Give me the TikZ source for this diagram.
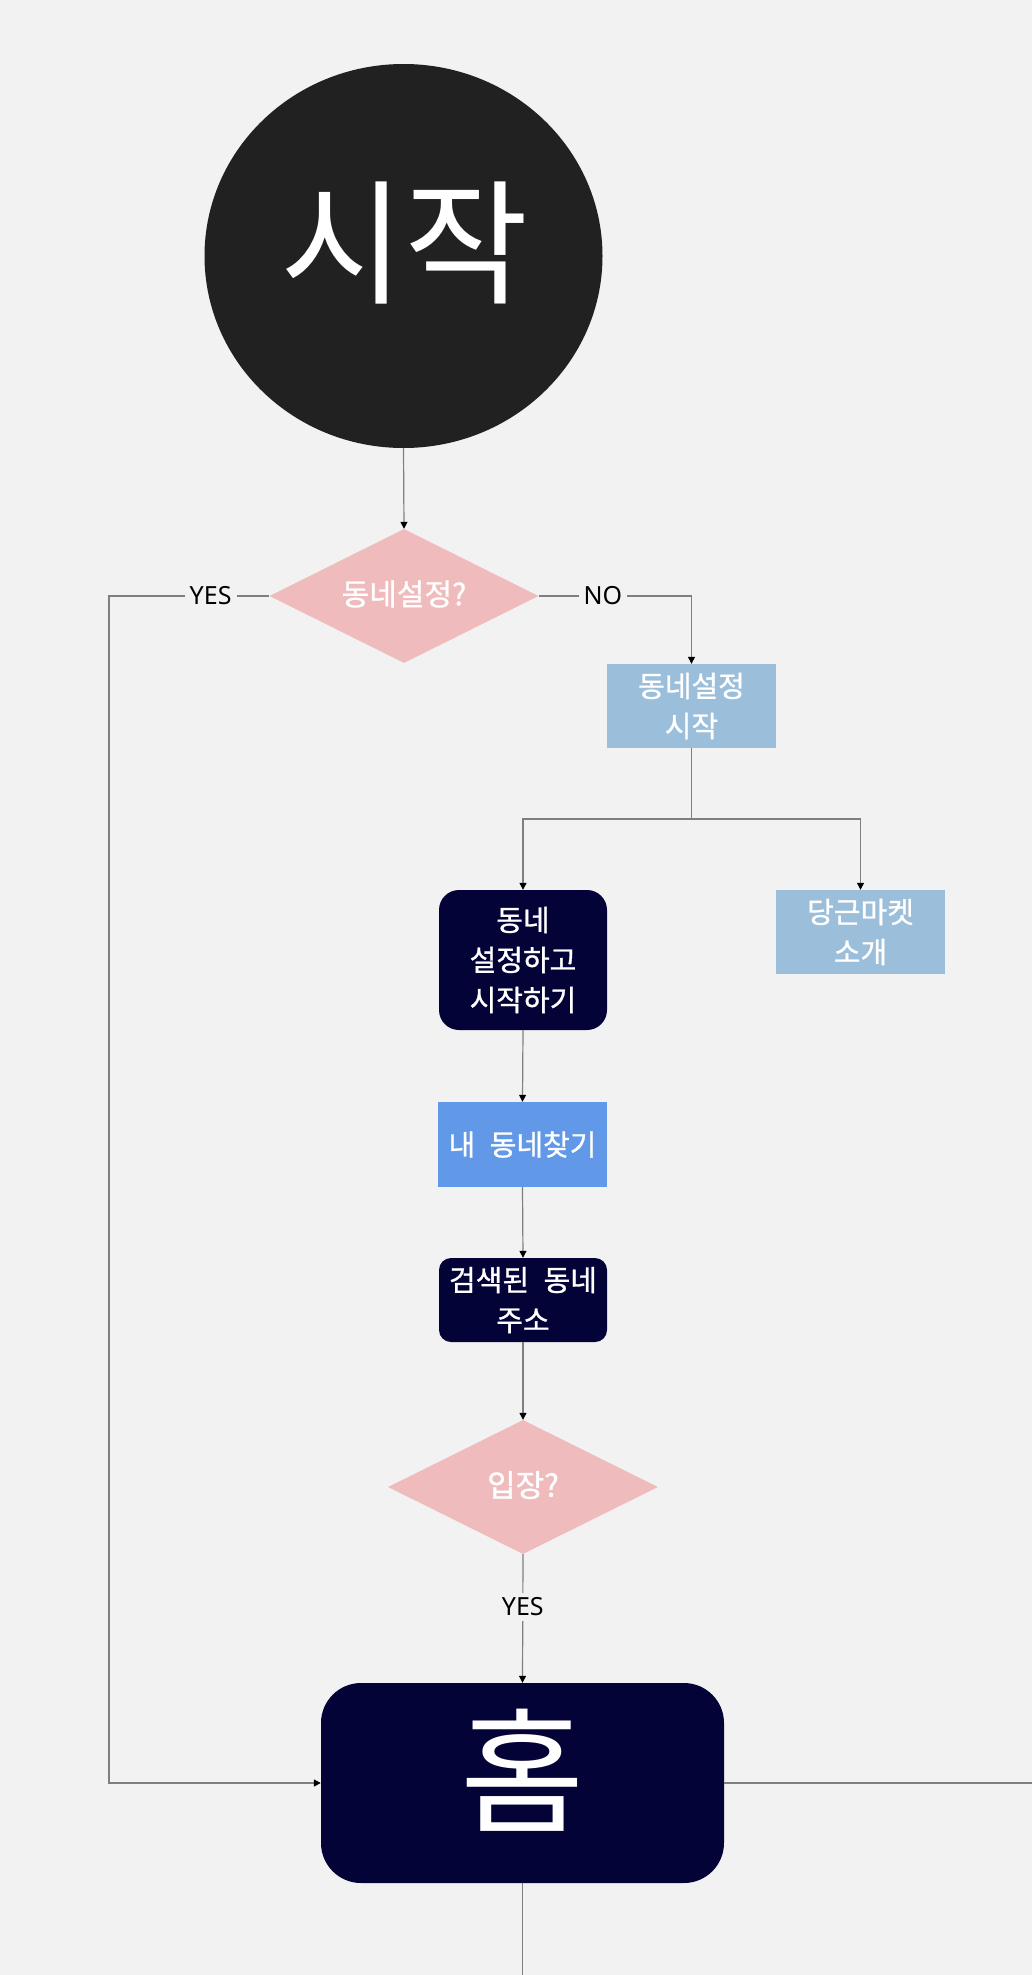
\documentclass[tikz,border=0pt]{standalone}
\usepackage{fontspec}
\setmainfont{Noto Sans CJK KR}
\newfontfamily\latinfont{Noto Sans}
\newfontfamily\krbold[FakeBold=1]{Noto Sans CJK KR}
\usetikzlibrary{shapes.geometric,arrows.meta}
\definecolor{bgc}{HTML}{F2F2F2}
\definecolor{darkc}{HTML}{212121}
\definecolor{pinkc}{HTML}{EFBBBC}
\definecolor{lbluec}{HTML}{9BBFDB}
\definecolor{navyc}{HTML}{040338}
\definecolor{bluec}{HTML}{6199E8}
\definecolor{linec}{HTML}{7F7F7F}
\begin{document}
\begin{tikzpicture}[x=1pt,y=-1pt,
  conn/.style={draw=linec, line width=1.2pt},
  arr/.style={conn, -{Triangle[length=7pt,width=7pt,color=black]}},
  boxtext/.style={text=white, align=center, inner sep=0pt, font=\krbold\fontsize{29pt}{40pt}\selectfont},
  flatbox/.style={boxtext, rectangle, fill=lbluec},
  navybox/.style={boxtext, rectangle, fill=navyc, rounded corners=20pt},
  decision/.style={diamond, fill=pinkc, inner sep=0pt, minimum width=269pt, minimum height=134pt},
  lbl/.style={font=\latinfont\fontsize{25pt}{30pt}\selectfont, text=black, fill=bgc, inner sep=5pt},
  bigtext/.style={text=white, inner sep=0pt, font=\fontsize{135pt}{135pt}\selectfont}
]
\fill[bgc] (0,0) rectangle (1032,1975);
\useasboundingbox (0,0) rectangle (1032,1975);

% start circle
\node[ellipse, fill=darkc, minimum width=398pt, minimum height=384pt, inner sep=0pt] (start) at (403.5,256) {};
\node[bigtext] (starttxt) at (404.5,243) {시작};

% decision 1
\node[decision] (d1) at (404,596) {};
\node[boxtext, font=\krbold\fontsize{30pt}{36pt}\selectfont] (d1txt) at (404,594) {동네설정?};

% box: 동네설정 시작
\node[flatbox, minimum width=169pt, minimum height=84pt] (b1) at (691.5,706) {동네설정\\시작};

% branch
\coordinate (split) at (691.5,819);
\node[navybox, minimum width=168pt, minimum height=140pt] (b2) at (523,960) {동네\\설정하고\\시작하기};
\node[flatbox, minimum width=169pt, minimum height=84pt] (b3) at (860.5,932) {당근마켓\\소개};

\node[boxtext, rectangle, fill=bluec, minimum width=169pt, minimum height=85pt] (b4) at (522.5,1144.5) {\raisebox{2pt}{내\hspace*{0.5em}동네찾기}};
\node[navybox, rounded corners=12pt, minimum width=168pt, minimum height=84pt] (b5) at (523,1300) {검색된\hspace*{0.5em}동네\\주소};

% decision 2
\node[decision, minimum width=270pt] (d2) at (523,1487) {};
\node[boxtext, font=\krbold\fontsize{31pt}{36pt}\selectfont] (d2txt) at (523,1485) {입장?};

% home
\node[rectangle, fill=navyc, rounded corners=40pt, minimum width=403pt, minimum height=200pt, inner sep=0pt] (home) at (522.5,1783) {};
\node[bigtext] (hometxt) at (522.5,1770) {홈};

\coordinate (yescorner) at (109,596);
\coordinate (nocorner) at (691.5,596);
\coordinate (rightend) at (1032,1783);
\coordinate (bottomend) at (522.5,1975);

% connectors
\draw[arr] (start.south) -- (d1.north);
\draw[arr] (d1.west) -- node[lbl, pos=0.366] {YES} (yescorner) -- (yescorner |- home.west) -- (home.west);
\draw[arr] (d1.east) -- node[lbl, pos=0.42] {NO} (nocorner) -- (b1.north);
\draw[conn] (b1.south) -- (split);
\draw[arr] (split) -| (b2.north);
\draw[arr] (split) -| (b3.north);
\draw[arr] (b2.south) -- (b4.north);
\draw[arr] (b4.south) -- (b5.north);
\draw[arr] (b5.south) -- (d2.north);
\draw[arr] (d2.south) -- node[lbl, pos=0.41] {YES} (home.north);
\draw[conn] (home.east) -- (rightend);
\draw[conn] (home.south) -- (bottomend);
\end{tikzpicture}
\end{document}
